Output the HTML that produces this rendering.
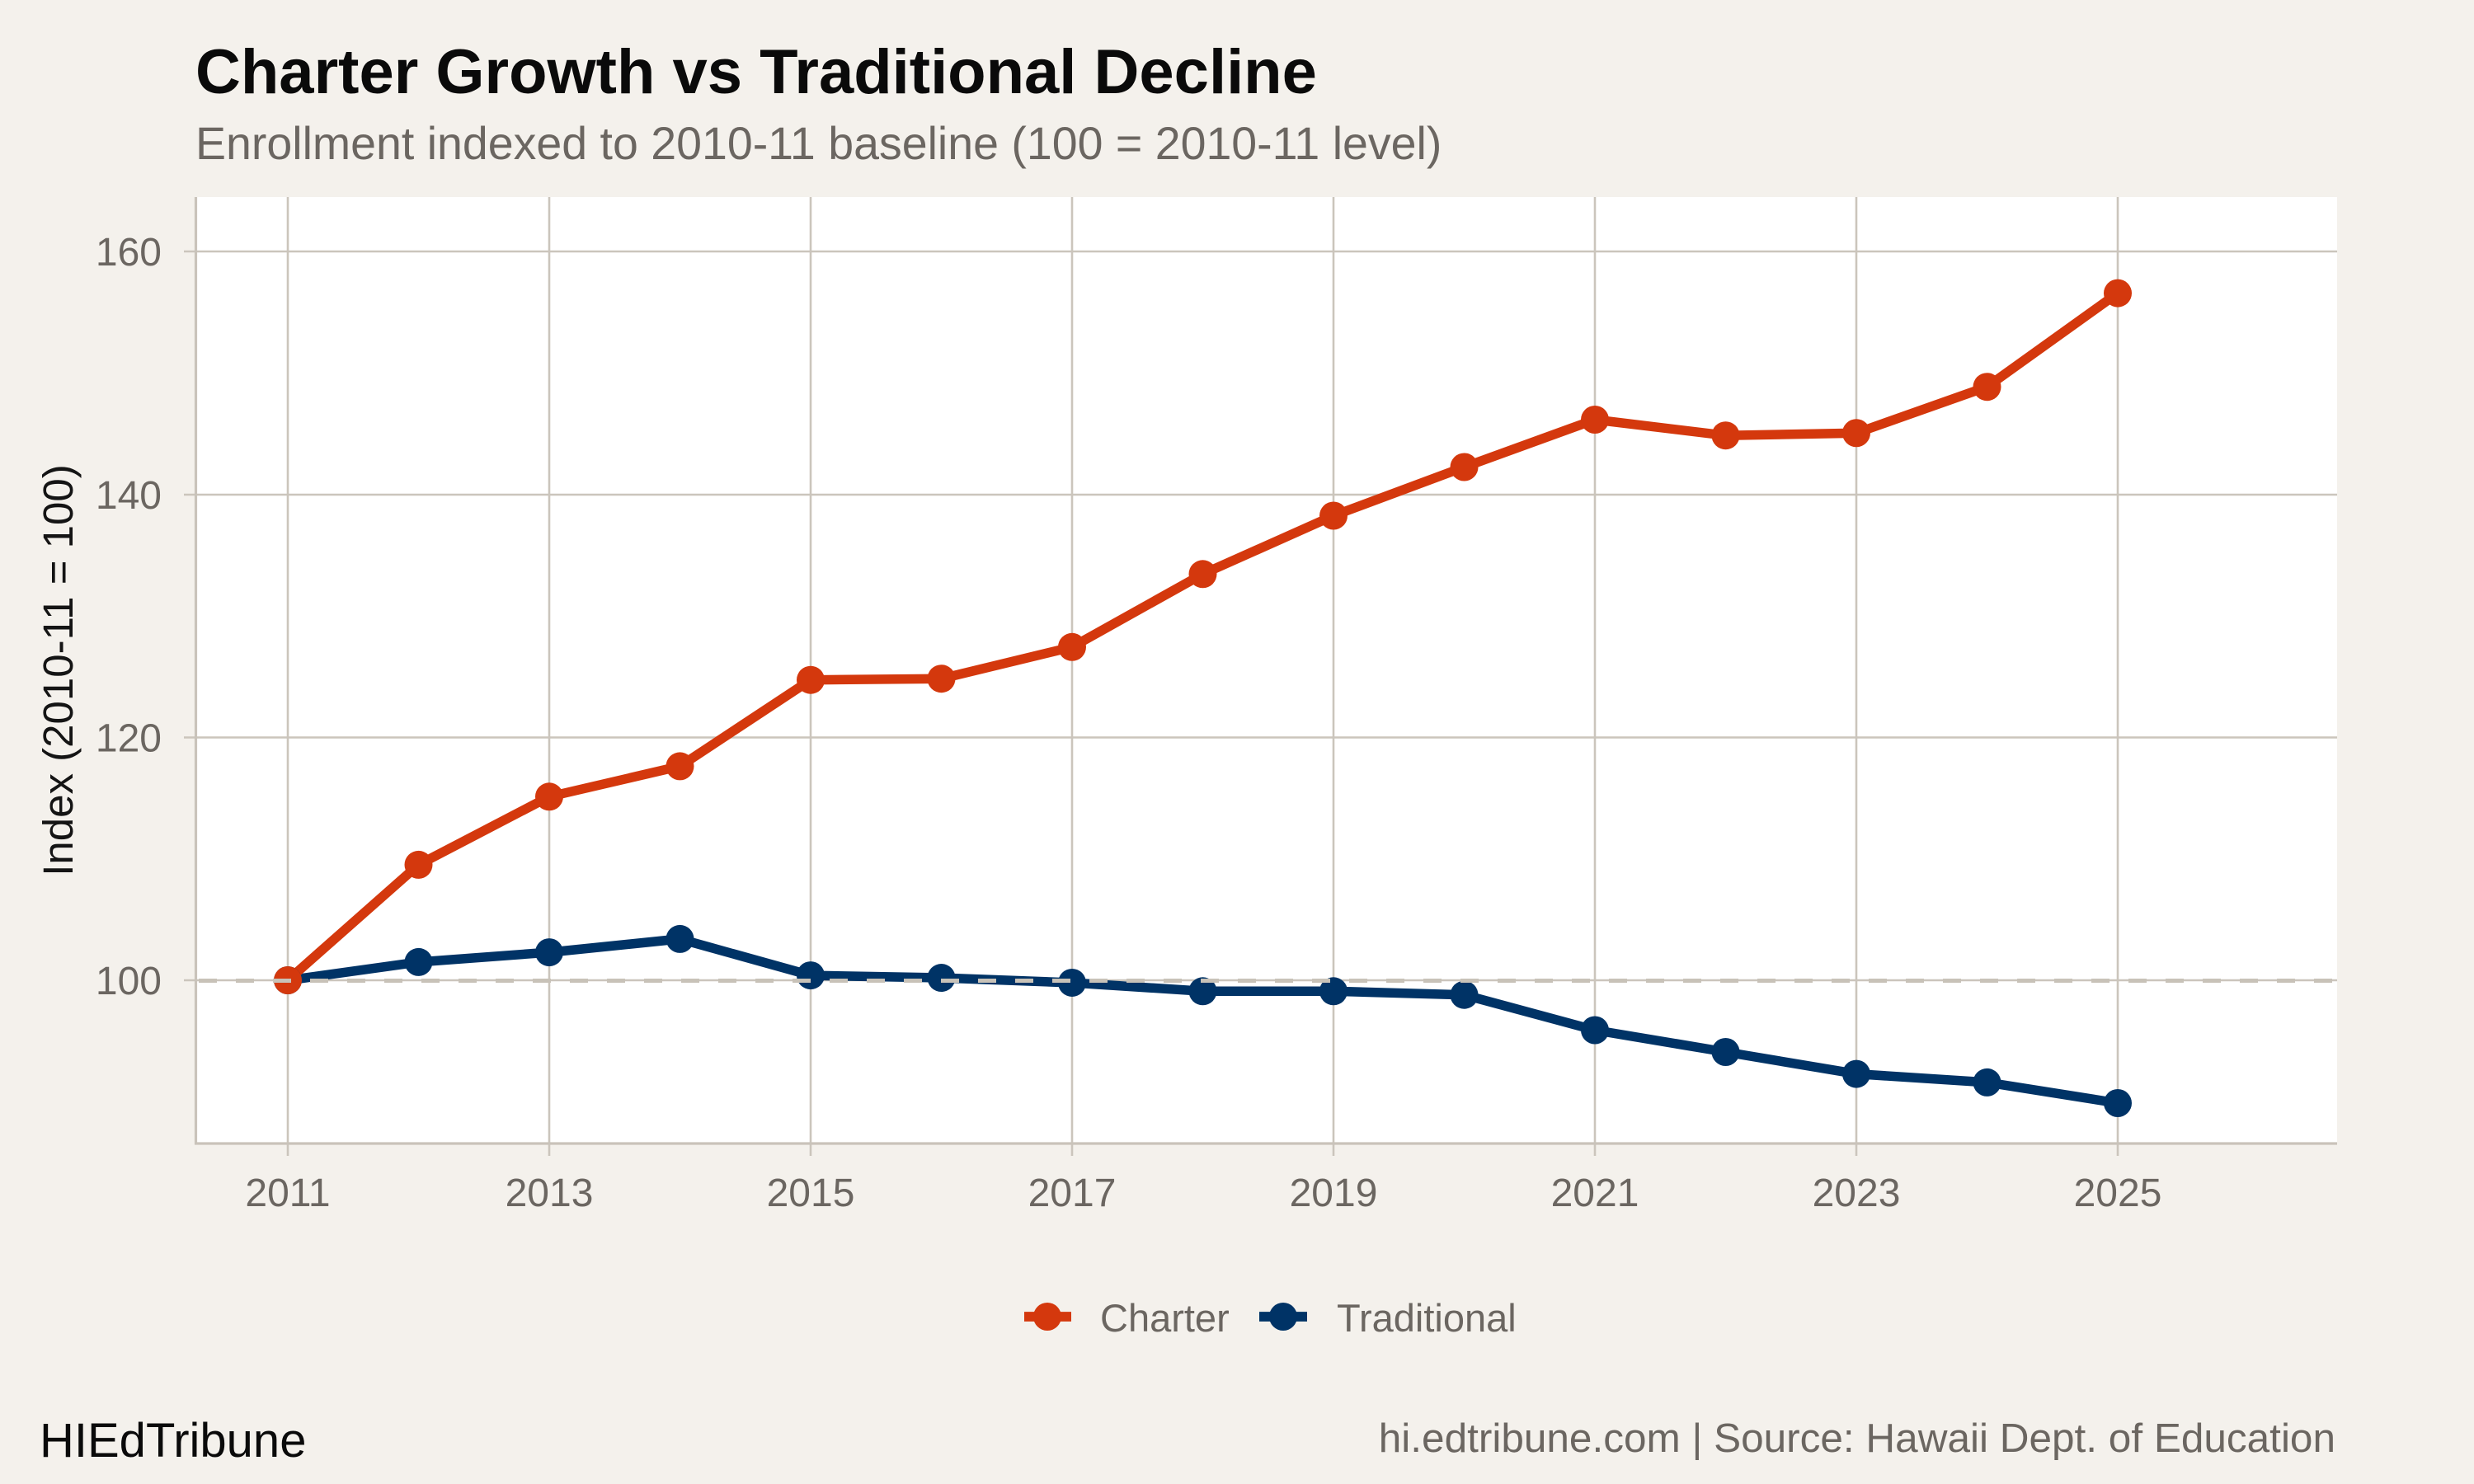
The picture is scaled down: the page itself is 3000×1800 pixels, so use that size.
<!DOCTYPE html>
<html>
<head>
<meta charset="utf-8">
<style>
  html, body { margin:0; padding:0; background:#f4f1ec; }
  svg { display:block; }
  text { font-family: "Liberation Sans", Arial, sans-serif; }
</style>
</head>
<body>
<svg width="3000" height="1800" viewBox="0 0 3000 1800" xmlns="http://www.w3.org/2000/svg">
  <rect x="0" y="0" width="3000" height="1800" fill="#f4f1ec"/>

  <!-- Title & subtitle -->
  <text x="237" y="113" font-size="76" font-weight="bold" fill="#0a0a0a">Charter Growth vs Traditional Decline</text>
  <text x="237" y="193" font-size="55.5" fill="#6b6661">Enrollment indexed to 2010-11 baseline (100 = 2010-11 level)</text>

  <!-- Panel -->
  <rect x="237" y="239" width="2597" height="1148" fill="#ffffff"/>

  <!-- Horizontal gridlines + y ticks -->
  <g stroke="#cbc5bc" stroke-width="2.6">
    <line x1="223" y1="305" x2="2834" y2="305"/>
    <line x1="223" y1="600" x2="2834" y2="600"/>
    <line x1="223" y1="894.5" x2="2834" y2="894.5"/>
    <line x1="223" y1="1189" x2="2834" y2="1189"/>
  </g>
  <!-- Vertical gridlines + x ticks -->
  <g stroke="#cbc5bc" stroke-width="2.6">
    <line x1="349" y1="239" x2="349" y2="1402"/>
    <line x1="666" y1="239" x2="666" y2="1402"/>
    <line x1="983" y1="239" x2="983" y2="1402"/>
    <line x1="1300" y1="239" x2="1300" y2="1402"/>
    <line x1="1617" y1="239" x2="1617" y2="1402"/>
    <line x1="1934" y1="239" x2="1934" y2="1402"/>
    <line x1="2251" y1="239" x2="2251" y2="1402"/>
    <line x1="2568" y1="239" x2="2568" y2="1402"/>
  </g>

  <!-- Axis lines -->
  <g stroke="#c9c3ba" stroke-width="3.2">
    <line x1="237.5" y1="239" x2="237.5" y2="1388.5"/>
    <line x1="236" y1="1387" x2="2834" y2="1387"/>
  </g>

  <!-- Y tick labels -->
  <g font-size="48" fill="#6b6661" text-anchor="end">
    <text x="196" y="322">160</text>
    <text x="196" y="617">140</text>
    <text x="196" y="911.5">120</text>
    <text x="196" y="1206">100</text>
  </g>

  <!-- X tick labels -->
  <g font-size="48" fill="#6b6661" text-anchor="middle">
    <text x="349" y="1463">2011</text>
    <text x="666" y="1463">2013</text>
    <text x="983" y="1463">2015</text>
    <text x="1300" y="1463">2017</text>
    <text x="1617" y="1463">2019</text>
    <text x="1934" y="1463">2021</text>
    <text x="2251" y="1463">2023</text>
    <text x="2568" y="1463">2025</text>
  </g>

  <!-- Y axis title -->
  <text transform="translate(88,813) rotate(-90)" font-size="51" fill="#141414" text-anchor="middle">Index (2010-11 = 100)</text>

  <!-- Traditional series -->
  <polyline fill="none" stroke="#003366" stroke-width="11.5" stroke-linejoin="round" stroke-linecap="round"
    points="349,1189 507.5,1166.9 666,1155.1 824.5,1138.9 983,1183.1 1141.5,1186.05 1300,1191.95 1458.5,1202.3 1617,1202.3 1775.5,1206.7 1934,1249.5 2092.5,1276 2251,1302.6 2409.5,1312.9 2568,1338"/>
  <!-- Charter series -->
  <polyline fill="none" stroke="#d4380d" stroke-width="11.5" stroke-linejoin="round" stroke-linecap="round"
    points="349,1189 507.5,1048.9 666,966.3 824.5,929.4 983,824.7 1141.5,823.2 1300,784.8 1458.5,696.3 1617,625.5 1775.5,566.5 1934,509 2092.5,528.2 2251,525.25 2409.5,469.2 2568,355.6"/>

  <!-- Traditional points -->
  <g fill="#003366">
    <circle cx="349" cy="1189" r="17"/>
    <circle cx="507.5" cy="1166.9" r="17"/>
    <circle cx="666" cy="1155.1" r="17"/>
    <circle cx="824.5" cy="1138.9" r="17"/>
    <circle cx="983" cy="1183.1" r="17"/>
    <circle cx="1141.5" cy="1186.05" r="17"/>
    <circle cx="1300" cy="1191.95" r="17"/>
    <circle cx="1458.5" cy="1202.3" r="17"/>
    <circle cx="1617" cy="1202.3" r="17"/>
    <circle cx="1775.5" cy="1206.7" r="17"/>
    <circle cx="1934" cy="1249.5" r="17"/>
    <circle cx="2092.5" cy="1276" r="17"/>
    <circle cx="2251" cy="1302.6" r="17"/>
    <circle cx="2409.5" cy="1312.9" r="17"/>
    <circle cx="2568" cy="1338" r="17"/>
  </g>
  <!-- Charter points -->
  <g fill="#d4380d">
    <circle cx="349" cy="1189" r="17"/>
    <circle cx="507.5" cy="1048.9" r="17"/>
    <circle cx="666" cy="966.3" r="17"/>
    <circle cx="824.5" cy="929.4" r="17"/>
    <circle cx="983" cy="824.7" r="17"/>
    <circle cx="1141.5" cy="823.2" r="17"/>
    <circle cx="1300" cy="784.8" r="17"/>
    <circle cx="1458.5" cy="696.3" r="17"/>
    <circle cx="1617" cy="625.5" r="17"/>
    <circle cx="1775.5" cy="566.5" r="17"/>
    <circle cx="1934" cy="509" r="17"/>
    <circle cx="2092.5" cy="528.2" r="17"/>
    <circle cx="2251" cy="525.25" r="17"/>
    <circle cx="2409.5" cy="469.2" r="17"/>
    <circle cx="2568" cy="355.6" r="17"/>
  </g>

  <!-- Dashed baseline at 100 (on top) -->
  <line x1="237" y1="1189.5" x2="2834" y2="1189.5" stroke="#c8c2b8" stroke-width="5" stroke-dasharray="22 23" stroke-dashoffset="-4"/>

  <!-- Legend -->
  <line x1="1242" y1="1597" x2="1299" y2="1597" stroke="#d4380d" stroke-width="11.7"/>
  <circle cx="1270" cy="1597" r="17" fill="#d4380d"/>
  <text x="1334" y="1615" font-size="47" fill="#6b6661">Charter</text>
  <line x1="1527" y1="1597" x2="1585" y2="1597" stroke="#003366" stroke-width="11.7"/>
  <circle cx="1556" cy="1597" r="17" fill="#003366"/>
  <text x="1621" y="1615" font-size="47" fill="#6b6661">Traditional</text>

  <!-- Captions -->
  <text x="48" y="1767" font-size="58" fill="#0a0a0a">HIEdTribune</text>
  <text x="2832" y="1761" font-size="49.5" fill="#6b6661" text-anchor="end">hi.edtribune.com | Source: Hawaii Dept. of Education</text>
</svg>
</body>
</html>
